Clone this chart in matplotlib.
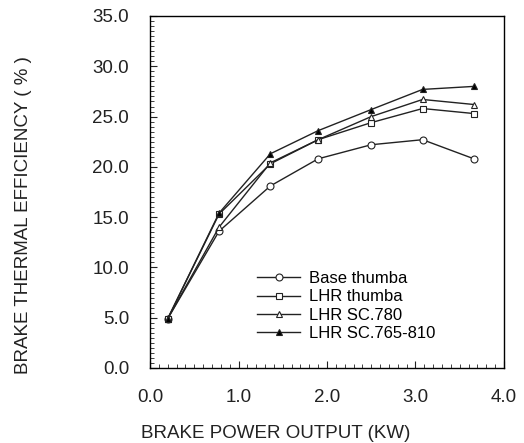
import matplotlib
matplotlib.use('Agg')
import matplotlib.pyplot as plt
from matplotlib.ticker import MultipleLocator, FormatStrFormatter

plt.rcParams['font.family'] = ['Liberation Sans', 'DejaVu Sans']

# brake power output (kW)
bp = [0.2, 0.78, 1.36, 1.9, 2.5, 3.08, 3.66]

# brake thermal efficiency (%)
base_thumba = [4.9, 13.6, 18.1, 20.8, 22.2, 22.7, 20.8]
lhr_thumba = [4.9, 15.3, 20.3, 22.7, 24.4, 25.8, 25.3]
lhr_sc780 = [4.9, 14.0, 20.4, 22.7, 25.0, 26.7, 26.2]
lhr_sc765 = [4.9, 15.4, 21.3, 23.6, 25.7, 27.7, 28.0]

series = [
    ('Base thumba', base_thumba, 'o', 'white'),
    ('LHR thumba', lhr_thumba, 's', 'white'),
    ('LHR SC.780', lhr_sc780, '^', 'white'),
    ('LHR SC.765-810', lhr_sc765, '^', 'black'),
]

fig = plt.figure(figsize=(5.24, 4.43), dpi=100)
ax = fig.add_axes([150 / 524, 1 - 368 / 443, 354 / 524, 352 / 443])

for name, vals, mk, fc in series:
    ax.plot(bp, vals, color='#222222', linewidth=1.0, marker=mk,
            markersize=5, markerfacecolor=fc, markeredgecolor='#222222',
            markeredgewidth=0.8, label=name)

ax.set_xlim(0, 4.0)
ax.set_ylim(0, 35.0)
ax.xaxis.set_major_locator(MultipleLocator(1.0))
ax.xaxis.set_minor_locator(MultipleLocator(0.1))
ax.yaxis.set_major_locator(MultipleLocator(5.0))
ax.yaxis.set_minor_locator(MultipleLocator(0.5))
ax.xaxis.set_major_formatter(FormatStrFormatter('%.1f'))
ax.yaxis.set_major_formatter(FormatStrFormatter('%.1f'))
ax.tick_params(which='both', direction='in', top=False, right=False,
               labelsize=13.5, colors='#222222')
ax.tick_params(which='major', length=5)
ax.tick_params(axis='x', which='major', pad=15)
ax.tick_params(axis='y', which='major', pad=15)
ax.tick_params(which='minor', length=3)
for s in ax.spines.values():
    s.set_linewidth(1.0)

ax.set_xlabel('BRAKE POWER OUTPUT (KW)', fontsize=13.5, color='#222222')
ax.set_ylabel('BRAKE THERMAL EFFICIENCY ( % )', fontsize=13.5, color='#222222')
ax.xaxis.set_label_coords(125.5 / 354, -(433.5 - 368) / 352)
ax.yaxis.set_label_coords(-(150 - 23) / 354, (368 - 215) / 352)
ax.xaxis.label.set_va('center')
ax.yaxis.label.set_va('center')

ax.legend(loc='upper left', bbox_to_anchor=(107 / 354, (368 - 271) / 352),
          frameon=False, fontsize=12, handlelength=2.6, labelspacing=0.2,
          handletextpad=0.5, borderpad=0, borderaxespad=0)

fig.savefig('out.png', dpi=100)
